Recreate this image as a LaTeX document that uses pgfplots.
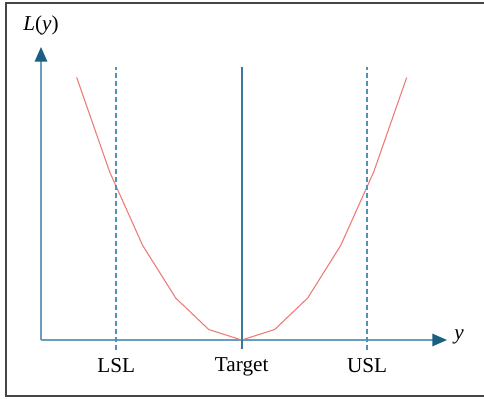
\documentclass[border=0pt]{standalone}
\usepackage{pgfplots}
\pgfplotsset{compat=1.18}
\usepackage{fontspec}
\setmainfont{Liberation Serif}
\usetikzlibrary{arrows.meta}
\definecolor{axblue}{RGB}{105,158,190}
\definecolor{headblue}{RGB}{25,95,130}
\definecolor{tgtblue}{RGB}{60,120,155}
\definecolor{dashblue}{RGB}{80,145,185}
\definecolor{lossred}{RGB}{236,125,120}
\definecolor{framegray}{RGB}{70,70,70}
\begin{document}
\begin{tikzpicture}
\useasboundingbox (0,0) rectangle (242pt,-199pt);
\draw[framegray, line width=1pt] (245pt,-1.5pt) -- (3pt,-1.5pt) -- (3pt,-198pt) -- (245pt,-198pt);
\begin{axis}[
  at={(20.5pt,-170pt)}, anchor=south west,
  scale only axis, width=203pt, height=146.5pt,
  xmin=-6.082, xmax=6.221, ymin=0, ymax=27.905,
  axis lines=left,
  axis line style={axblue, line width=0.8pt, -{Triangle[length=7.3pt,width=6.2pt,color=headblue,fill=headblue]}},
  xtick={-3.8,0,3.8}, xticklabels={LSL,Target,USL},
  ytick=\empty,
  major tick length=0pt,
  xticklabel style={anchor=north, yshift=-5.5pt, font=\fontsize{10.6}{12}\selectfont},
  clip=false,
]
\addplot[draw=lossred, line width=0.55pt] coordinates {
  (-5,25) (-4,16) (-3,9) (-2,4) (-1,1) (0,0) (1,1) (2,4) (3,9) (4,16) (5,25)};
\addplot[draw=tgtblue, line width=1pt] coordinates {(0,-0.9) (0,26)};
\addplot[draw=dashblue, line width=1pt, dash pattern=on 2.5pt off 1.5pt] coordinates {(-3.8,-0.95) (-3.8,26)};
\addplot[draw=dashblue, line width=1pt, dash pattern=on 2.5pt off 1.5pt] coordinates {(3.8,-0.95) (3.8,26)};
\node[anchor=west, font=\fontsize{10.6}{12}\selectfont\itshape, inner sep=0pt] at (rel axis cs:1,0) [xshift=3.5pt, yshift=1.5pt] {y};
\node[anchor=south, font=\fontsize{10.6}{12}\selectfont, inner sep=0pt] at (rel axis cs:0,1) [yshift=6pt] {\textit{L}(\textit{y})};
\end{axis}
\end{tikzpicture}
\end{document}
